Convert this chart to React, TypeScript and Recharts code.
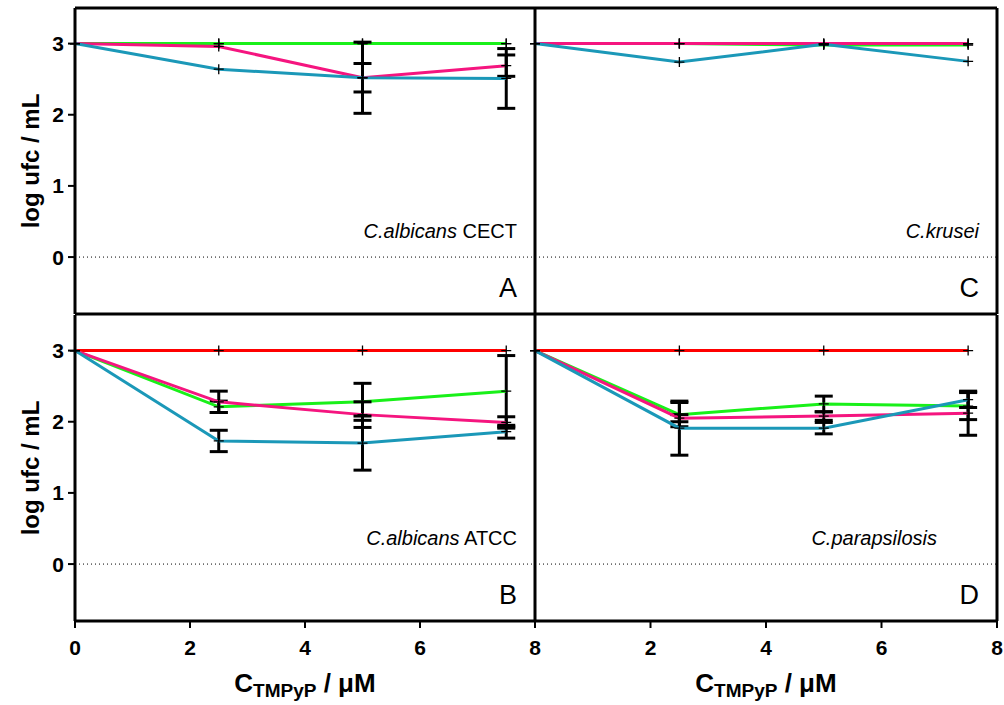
import React from "react";
import { LineChart, Line, XAxis, YAxis, ErrorBar, ReferenceLine } from "recharts";

// concentration of TMPyP (µM)
const conc = [0, 2.5, 5, 7.5];
const xTicks = [0, 2, 4, 6, 8];
const yTicks = [0, 1, 2, 3];

// A - C.albicans CECT
const aRed = [3, 3, 3, 3];
const aGreen = [3, 3, 3, 3];
const aPink = [3, 2.96, 2.52, 2.69];
const aTeal = [3, 2.64, 2.52, 2.51];
const aGreenErr = [null, null, null, null];
const aPinkErr = [null, null, 0.2, 0.15];
const aTealErr = [null, null, 0.5, 0.42];

// C - C.krusei
const cRed = [3, 3, 3, 3];
const cGreen = [3, 3, 2.98, 2.98];
const cPink = [3, 3, 3, 3];
const cTeal = [3, 2.74, 2.99, 2.75];
const cGreenErr = [null, null, null, null];
const cPinkErr = [null, null, null, null];
const cTealErr = [null, null, null, null];

// B - C.albicans ATCC
const bRed = [3, 3, 3, 3];
const bGreen = [3, 2.21, 2.28, 2.43];
const bPink = [3, 2.28, 2.1, 1.99];
const bTeal = [3, 1.73, 1.7, 1.86];
const bGreenErr = [null, 0.08, 0.26, 0.5];
const bPinkErr = [null, 0.15, 0.18, 0.08];
const bTealErr = [null, 0.15, 0.38, 0.09];

// D - C.parapsilosis
const dRed = [3, 3, 3, 3];
const dGreen = [3, 2.1, 2.25, 2.22];
const dPink = [3, 2.05, 2.08, 2.12];
const dTeal = [3, 1.91, 1.91, 2.31];
const dGreenErr = [null, 0.17, 0.11, 0.19];
const dPinkErr = [null, 0.05, 0.06, 0.31];
const dTealErr = [null, 0.38, 0.08, 0.11];

const RED = "#FF0000";
const GREEN = "#19F019";
const PINK = "#F5157F";
const TEAL = "#1B98B8";
const FONT = "Arial, 'Liberation Sans', sans-serif";

function makeRows(red: number[], g: number[], p: number[], t: number[], gE: any[], pE: any[], tE: any[]) {
  return conc.map((x, i) => ({
    x,
    red: red[i],
    green: g[i],
    pink: p[i],
    teal: t[i],
    greenErr: gE[i],
    pinkErr: pE[i],
    tealErr: tE[i],
  }));
}

const rowsA = makeRows(aRed, aGreen, aPink, aTeal, aGreenErr, aPinkErr, aTealErr);
const rowsC = makeRows(cRed, cGreen, cPink, cTeal, cGreenErr, cPinkErr, cTealErr);
const rowsB = makeRows(bRed, bGreen, bPink, bTeal, bGreenErr, bPinkErr, bTealErr);
const rowsD = makeRows(dRed, dGreen, dPink, dTeal, dGreenErr, dPinkErr, dTealErr);

const renderPlus = (props: any) => {
  const { cx, cy, index } = props;
  if (cx == null || cy == null) return <g key={index} />;
  return (
    <path
      key={index}
      d={`M${cx - 5},${cy}H${cx + 5}M${cx},${cy - 5}V${cy + 5}`}
      stroke="#000"
      strokeWidth={1.3}
      fill="none"
    />
  );
};

const XTick = (props: any) => {
  const { x, y, payload, hideZero } = props;
  if (hideZero && payload.value === 0) return <g />;
  return (
    <text x={x} y={y} dy="0.72em" textAnchor="middle" fontSize={21} fontWeight="bold" fontFamily={FONT} fill="#000">
      {payload.value}
    </text>
  );
};

const YTick = (props: any) => {
  const { x, y, payload } = props;
  return (
    <text x={x} y={y} dy="0.36em" textAnchor="end" fontSize={21} fontWeight="bold" fontFamily={FONT} fill="#000">
      {payload.value}
    </text>
  );
};

type PanelProps = {
  rows: any[];
  left: number;
  top: number;
  width: number;
  height: number;
  margin: any;
  yAxisWidth: number;
  xAxisHeight: number;
  showYLabels: boolean;
  showXLabels: boolean;
  hideZeroX?: boolean;
  topBorder?: boolean;
  rightBorder?: boolean;
};

function Panel(p: PanelProps) {
  const series = [
    { key: "red", color: RED, err: null },
    { key: "green", color: GREEN, err: "greenErr" },
    { key: "pink", color: PINK, err: "pinkErr" },
    { key: "teal", color: TEAL, err: "tealErr" },
  ];
  return (
    <div style={{ position: "absolute", left: p.left, top: p.top }}>
      <LineChart width={p.width} height={p.height} data={p.rows} margin={p.margin}>
        <XAxis
          dataKey="x"
          type="number"
          domain={[0, 8]}
          ticks={xTicks}
          height={p.xAxisHeight}
          axisLine={{ stroke: "#000", strokeWidth: 3 }}
          tickLine={{ stroke: "#000", strokeWidth: 2 }}
          tickSize={7}
          tickMargin={12}
          tick={p.showXLabels ? <XTick hideZero={p.hideZeroX} /> : false}
          interval={0}
        />
        <YAxis
          type="number"
          domain={[-0.8, 3.5]}
          ticks={yTicks}
          width={p.yAxisWidth}
          axisLine={{ stroke: "#000", strokeWidth: 3 }}
          tickLine={{ stroke: "#000", strokeWidth: 2 }}
          tickSize={7}
          tickMargin={4}
          tick={p.showYLabels ? <YTick /> : false}
          interval={0}
        />
        <ReferenceLine y={0} stroke="#000" strokeWidth={1} strokeDasharray="1 3" />
        {p.topBorder && <ReferenceLine y={3.5} stroke="#000" strokeWidth={3} />}
        {p.rightBorder && <ReferenceLine x={8} stroke="#000" strokeWidth={3} />}
        {series.map((s) => (
          <Line
            key={s.key}
            type="linear"
            dataKey={s.key}
            stroke={s.color}
            strokeWidth={3}
            dot={renderPlus}
            activeDot={false}
            isAnimationActive={false}
          >
            {s.err && (
              <ErrorBar dataKey={s.err} direction="y" width={9} stroke="#000" strokeWidth={3} />
            )}
          </Line>
        ))}
      </LineChart>
    </div>
  );
}

function Annotations() {
  const t = { fontFamily: FONT, fill: "#000" } as any;
  const xTitle = (cx: number) => (
    <text x={cx} y={692} textAnchor="middle" fontSize={26} fontWeight="bold" {...t}>
      C
      <tspan fontSize={19} dy={5}>
        TMPyP
      </tspan>
      <tspan dy={-5}> / μM</tspan>
    </text>
  );
  const yTitle = (cy: number) => (
    <text
      x={30}
      y={cy}
      transform={`rotate(-90 30 ${cy})`}
      textAnchor="middle"
      dominantBaseline="central"
      fontSize={24}
      fontWeight="bold"
      {...t}
    >
      log ufc / mL
    </text>
  );
  return (
    <svg
      width={1004}
      height={705}
      style={{ position: "absolute", left: 0, top: 0, pointerEvents: "none" }}
    >
      {yTitle(161)}
      {yTitle(468)}
      {xTitle(305)}
      {xTitle(766)}

      <text x={517} y={238} textAnchor="end" fontSize={20} {...t}>
        <tspan fontStyle="italic">C.albicans</tspan> CECT
      </text>
      <text x={517} y={297} textAnchor="end" fontSize={27} {...t}>
        A
      </text>

      <text x={979} y={238} textAnchor="end" fontSize={20} fontStyle="italic" {...t}>
        C.krusei
      </text>
      <text x={979} y={297} textAnchor="end" fontSize={27} {...t}>
        C
      </text>

      <text x={517} y={545} textAnchor="end" fontSize={20} {...t}>
        <tspan fontStyle="italic">C.albicans</tspan> ATCC
      </text>
      <text x={517} y={604} textAnchor="end" fontSize={27} {...t}>
        B
      </text>

      <text x={937} y={545} textAnchor="end" fontSize={20} fontStyle="italic" {...t}>
        C.parapsilosis
      </text>
      <text x={979} y={604} textAnchor="end" fontSize={27} {...t}>
        D
      </text>
    </svg>
  );
}

export default function App() {
  return (
    <div
      style={{
        position: "absolute",
        left: 0,
        top: 0,
        width: 1004,
        height: 705,
        background: "#fff",
        overflow: "hidden",
        fontFamily: FONT,
      }}
    >
      <Panel
        rows={rowsA}
        left={0}
        top={0}
        width={545}
        height={330}
        margin={{ top: 8, right: 10, bottom: 6, left: 30 }}
        yAxisWidth={45}
        xAxisHeight={10}
        showYLabels
        showXLabels={false}
        topBorder
      />
      <Panel
        rows={rowsB}
        left={0}
        top={300}
        width={545}
        height={405}
        margin={{ top: 15, right: 10, bottom: 14, left: 30 }}
        yAxisWidth={45}
        xAxisHeight={70}
        showYLabels
        showXLabels
      />
      <Panel
        rows={rowsC}
        left={500}
        top={0}
        width={504}
        height={330}
        margin={{ top: 8, right: 7, bottom: 6, left: 25 }}
        yAxisWidth={10}
        xAxisHeight={10}
        showYLabels={false}
        showXLabels={false}
        topBorder
        rightBorder
      />
      <Panel
        rows={rowsD}
        left={500}
        top={300}
        width={504}
        height={405}
        margin={{ top: 15, right: 7, bottom: 14, left: 25 }}
        yAxisWidth={10}
        xAxisHeight={70}
        showYLabels={false}
        showXLabels
        hideZeroX
        rightBorder
      />
      <Annotations />
    </div>
  );
}
